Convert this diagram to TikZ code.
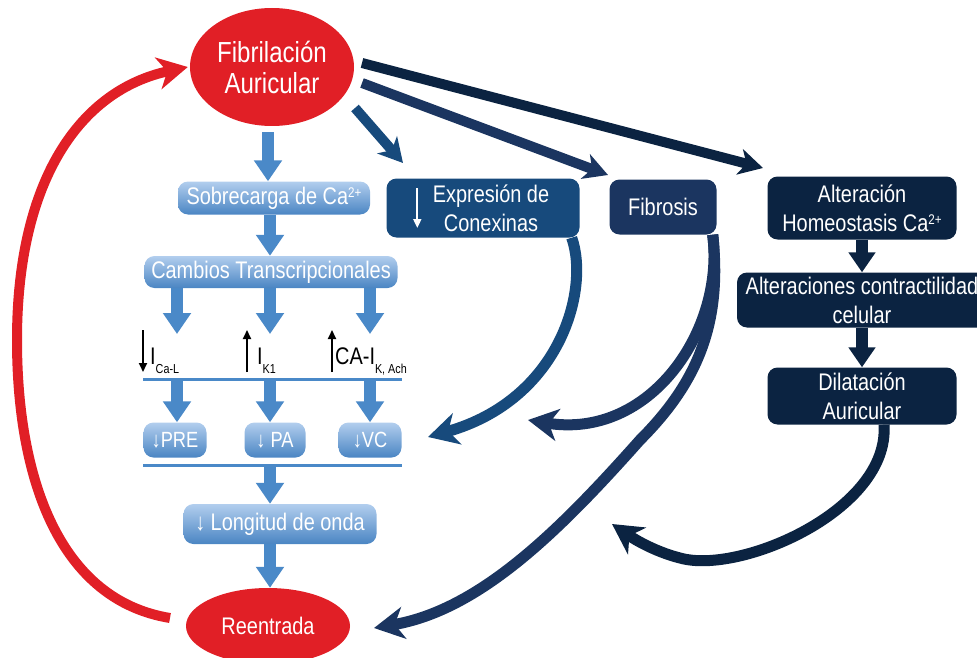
\documentclass[tikz,border=0pt]{standalone}
\usepackage{fontspec}
\setmainfont{Liberation Sans}[FakeStretch=0.83]
\usetikzlibrary{arrows.meta,shapes.geometric}
\definecolor{fared}{HTML}{E11F26}
\definecolor{lblue}{HTML}{4A89C8}
\definecolor{ltop}{HTML}{B2CEEE}
\definecolor{lbot}{HTML}{4A85C3}
\definecolor{dbA}{HTML}{174A7C}
\definecolor{dbB}{HTML}{1B3560}
\definecolor{dbC}{HTML}{0B2341}
\newcommand{\supsc}[1]{\raisebox{7pt}{\fontsize{14}{14}\selectfont #1}}
\newcommand{\subsc}[1]{\raisebox{-9pt}{\fontsize{13}{13}\selectfont #1}}
\begin{document}
\begin{tikzpicture}[x=1pt,y=-1pt,
  redell/.style={ellipse, fill=fared, text=white, inner sep=0pt, align=center},
  lbox/.style={rounded corners=10pt, top color=ltop, bottom color=lbot, text=white,
     font=\fontsize{24}{28}\selectfont, inner sep=0pt, minimum height=33pt},
  dbox/.style={rounded corners=10pt, text=white, font=\fontsize{24}{29}\selectfont,
     align=center, inner sep=0pt},
  larrow/.style={draw=lblue, line width=12pt, -{Triangle[length=21pt,width=27pt]}},
  darrow/.style={line width=10pt, -{Stealth[length=24pt,width=26pt,inset=7pt]}},
  carrow/.style={line width=11pt, -{Stealth[length=30pt,width=32pt,inset=9pt]}},
  barline/.style={draw=lblue, line width=3pt},
  thinarrow/.style={line width=1.8pt, -{Triangle[length=9pt,width=8pt]}},
  curlab/.style={anchor=base west, inner sep=0pt, font=\fontsize{24}{24}\selectfont}
]
\useasboundingbox (0,0) rectangle (977,658);
\clip (0,0) rectangle (977,658);

% red ellipses
\node[redell, minimum width=164pt, minimum height=118pt, font=\fontsize{29}{31}\selectfont] (fa) at (272,67) {Fibrilación\\Auricular};
\node[redell, minimum width=164pt, minimum height=76pt, font=\fontsize{24}{28}\selectfont] (re) at (268,626) {Reentrada};

% light blue column
\node[lbox, minimum width=192pt] (sob) at (274,198) {Sobrecarga de Ca\supsc{2+}};
\node[lbox, minimum width=253pt, minimum height=32pt] (cam) at (271,272) {Cambios Transcripcionales};
\node[lbox, minimum width=63pt, minimum height=35pt, font=\fontsize{22}{25}\selectfont] (pre) at (175,440) {↓PRE};
\node[lbox, minimum width=61pt, minimum height=35pt, font=\fontsize{22}{25}\selectfont] (pa) at (275,440) {↓ PA};
\node[lbox, minimum width=63pt, minimum height=35pt, font=\fontsize{22}{25}\selectfont] (vc) at (370,440) {↓VC};
\node[lbox, minimum width=193pt, minimum height=40pt] (lon) at (280,524) {↓ Longitud de onda};

\coordinate (t1) at (177,334);
\coordinate (t2) at (270,334);
\coordinate (t3) at (370,334);
\coordinate (l1a) at (143,379); \coordinate (l1b) at (402,379);
\coordinate (l2a) at (143,465); \coordinate (l2b) at (402,465);

\draw[larrow] ([xshift=-4pt,yshift=-6pt]fa.south) -- ([xshift=-6pt]sob.north);
\draw[larrow] (sob.south -| t2) -- (cam.north -| t2);
\draw[larrow] (cam.south -| t1) -- (t1);
\draw[larrow] (cam.south -| t2) -- (t2);
\draw[larrow] (cam.south -| t3) -- (t3);
\draw[barline] (l1a) -- (l1b);
\draw[larrow] (l1a -| t1) -- (pre.north -| t1);
\draw[larrow] (l1a -| t2) -- (pa.north -| t2);
\draw[larrow] (l1a -| t3) -- (vc.north -| t3);
\draw[barline] (l2a) -- (l2b);
\draw[larrow] (l2a -| t2) -- (lon.north -| t2);
\draw[larrow] (lon.south -| t2) -- (re.north -| t2);

% current labels
\coordinate (a1s) at (143,330); \coordinate (a1e) at (143,372);
\coordinate (a2s) at (247,372); \coordinate (a2e) at (247,330);
\coordinate (a3s) at (332,372); \coordinate (a3e) at (332,330);
\draw[thinarrow] (a1s) -- (a1e);
\draw[thinarrow] (a2s) -- (a2e);
\draw[thinarrow] (a3s) -- (a3e);
\node[curlab] (ica) at (150,364) {I\subsc{Ca-L}};
\node[curlab] (ik) at (257,364) {I\subsc{K1}};
\node[curlab] (ich) at (335,364) {CA-I\subsc{K, Ach}};

% dark boxes
\node[dbox, fill=dbA, minimum width=193pt, minimum height=59pt] (exp) at (483,208) {\hspace*{16pt}Expresión de\\\hspace*{16pt}Conexinas};
\draw[thinarrow, white] ([shift={(31pt,20pt)}]exp.west) -- ([shift={(31pt,-20pt)}]exp.west);
\node[dbox, fill=dbB, minimum width=107pt, minimum height=55pt] (fib) at (663,207) {Fibrosis};
\node[dbox, fill=dbC, minimum width=189pt, minimum height=63pt] (alt) at (862,208) {Alteración\\Homeostasis Ca\supsc{2+}};
\node[dbox, fill=dbC, minimum width=250pt, minimum height=55pt] (con) at (862,300) {Alteraciones contractilidad\\celular};
\node[dbox, fill=dbC, minimum width=189pt, minimum height=57pt] (dil) at (862,396) {Dilatación\\Auricular};

\draw[larrow, draw=dbC, -{Triangle[length=20pt,width=26pt]}] (alt.south) -- (con.north);
\draw[larrow, draw=dbC, -{Triangle[length=20pt,width=26pt]}] (con.south) -- (dil.north);

% straight dark arrows from Fibrilacion
\coordinate (s1) at (355,108); \coordinate (tA) at (403,163);
\coordinate (s2) at (362,83);  \coordinate (tB) at (608,175);
\coordinate (s3) at (362,63);  \coordinate (tC) at (763,168);
\draw[darrow, dbA] (s1) -- (tA);
\draw[darrow, dbB] (s2) -- (tB);
\draw[darrow, dbC] (s3) -- (tC);

% curved arrows
\coordinate (e1) at (428,437);
\coordinate (e2) at (528,420);
\coordinate (e3) at (374,628);
\coordinate (e4) at (612,524);
\draw[carrow, dbA] ([xshift=-8pt]exp.south east) .. controls (590,290) and (560,400) .. (e1);
\draw[carrow, dbB] ([xshift=-4pt]fib.south east) .. controls (725,330) and (650,440) .. (e2);
\draw[carrow, dbB] ([xshift=-4pt]fib.south east) .. controls (722,320) and (700,380) .. (640,440) .. controls (560,530) and (480,610) .. (e3);
\draw[carrow, dbC] ([xshift=22pt]dil.south) .. controls (890,510) and (740,575) .. (680,558) .. controls (660,553) and (640,543) .. (e4);

% red return arrow
\coordinate (rs) at (170,618);
\draw[line width=10pt, fared, -{Stealth[length=30pt,width=32pt,inset=9pt]}] (rs) .. controls (60,600) and (17,480) .. (17,340) .. controls (17,180) and (80,90) .. ([xshift=-2pt]fa.west);
\end{tikzpicture}
\end{document}
